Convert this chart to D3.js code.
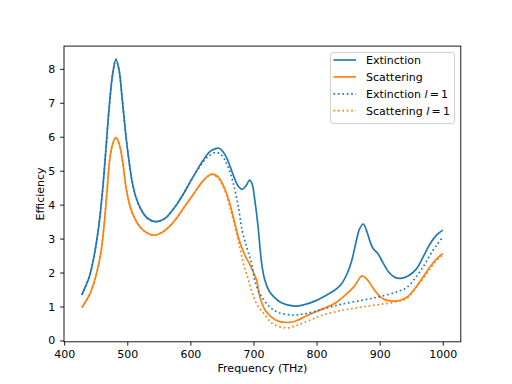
<!DOCTYPE html>
<html>
<head>
<meta charset="utf-8">
<script src="https://cdn.jsdelivr.net/npm/d3@7"></script>
<style>
  body { margin: 0; background: #fff; }
  svg { font-family: "DejaVu Sans", sans-serif; }
</style>
</head>
<body>
<svg id="chart" width="512" height="384"></svg>
<script>
// frequency (THz) / efficiency pairs
var extFreq = [428, 434, 440, 447, 454, 460, 466, 471, 477, 482, 487, 492, 498, 503, 508, 514, 522, 532, 545, 560, 570, 580, 590, 600,
  610, 620, 630, 640, 645, 650, 657, 663, 668, 675, 682, 688, 694, 698, 702, 707, 713, 718, 725, 732, 745, 765, 780, 800, 820, 831, 840, 848, 855, 862, 868, 874, 879, 885, 890, 897, 905, 915, 925, 933, 945, 958, 970, 980, 990, 1000];
var extVal = [1.34, 1.6, 1.88, 2.45, 3.25, 4.25, 5.6, 6.8, 7.87, 8.28, 7.96, 7.1, 6.0, 5.25, 4.65, 4.2, 3.85, 3.6, 3.5, 3.6, 3.8, 4.05, 4.35, 4.68,
  5.0, 5.3, 5.55, 5.65, 5.66, 5.6, 5.4, 5.12, 4.87, 4.57, 4.45, 4.55, 4.72, 4.6, 4.15, 3.4, 2.27, 1.78, 1.45, 1.29, 1.1, 1.01, 1.05, 1.18, 1.38, 1.51, 1.68, 1.95, 2.3, 2.85, 3.28, 3.43, 3.25, 2.9, 2.7, 2.56, 2.3, 2.0, 1.85, 1.83, 1.9, 2.1, 2.5, 2.85, 3.1, 3.25];

var scaFreq = [428, 440, 450, 458, 463, 468, 472, 477, 482, 487, 493, 498, 503, 508, 516, 525, 541, 555, 570, 580, 590, 600,
  610, 620, 630, 636, 645, 650, 657, 663, 668, 676, 681, 688, 694, 700, 705, 710, 720, 735, 750, 765, 790, 810, 831, 846, 860, 872, 880, 890, 900, 912, 924, 935, 945, 958, 970, 980, 990, 1000];
var scaVal = [0.97, 1.34, 1.88, 2.57, 3.35, 4.43, 5.3, 5.8, 5.98, 5.8, 5.22, 4.5, 4.05, 3.75, 3.45, 3.25, 3.1, 3.18, 3.42, 3.65, 3.92, 4.18,
  4.45, 4.7, 4.87, 4.9, 4.8, 4.65, 4.35, 4.0, 3.64, 3.05, 2.76, 2.45, 2.25, 2.0, 1.78, 1.29, 0.85, 0.6, 0.53, 0.56, 0.78, 0.93, 1.12, 1.34, 1.6, 1.9, 1.8, 1.53, 1.3, 1.18, 1.16, 1.2, 1.3, 1.58, 1.9, 2.17, 2.4, 2.56];

var ext1Freq = [428, 434, 440, 447, 454, 460, 466, 471, 477, 482, 487, 492, 498, 503, 508, 514, 522, 532, 545, 560, 570, 580, 590, 600,
  610, 620, 630, 641, 650, 657, 663, 668, 676, 682, 690, 697, 702, 708, 713, 725, 740, 763, 780, 800, 821, 840, 874, 900, 927, 943, 958, 970, 980, 990, 1000];
var ext1Val = [1.34, 1.6, 1.88, 2.45, 3.25, 4.25, 5.6, 6.8, 7.87, 8.28, 7.96, 7.1, 6.0, 5.25, 4.65, 4.2, 3.85, 3.6, 3.5, 3.6, 3.8, 4.05, 4.35, 4.68,
  4.98, 5.25, 5.45, 5.54, 5.45, 5.22, 4.95, 4.63, 3.94, 3.25, 2.7, 2.27, 1.78, 1.45, 1.29, 1.0, 0.82, 0.75, 0.78, 0.87, 0.98, 1.07, 1.19, 1.29, 1.43, 1.56, 1.88, 2.2, 2.52, 2.8, 3.04];

var sca1Freq = [428, 440, 450, 458, 463, 468, 472, 477, 482, 487, 493, 498, 503, 508, 516, 525, 541, 555, 570, 580, 590, 600,
  610, 620, 630, 636, 645, 650, 657, 663, 668, 672, 678, 684, 692, 700, 708, 716, 730, 751, 770, 790, 810, 831, 850, 874, 900, 927, 943, 958, 970, 980, 990, 1000];
var sca1Val = [0.97, 1.34, 1.88, 2.57, 3.35, 4.43, 5.3, 5.8, 5.98, 5.8, 5.22, 4.5, 4.05, 3.75, 3.45, 3.25, 3.1, 3.18, 3.42, 3.65, 3.92, 4.18,
  4.45, 4.7, 4.86, 4.88, 4.75, 4.6, 4.3, 3.9, 3.55, 3.24, 2.76, 2.27, 1.78, 1.29, 0.98, 0.8, 0.5, 0.37, 0.45, 0.6, 0.75, 0.85, 0.92, 0.99, 1.06, 1.14, 1.24, 1.56, 1.85, 2.12, 2.35, 2.52];

var xTicks = [400, 500, 600, 700, 800, 900, 1000];
var yTicks = [0, 1, 2, 3, 4, 5, 6, 7, 8];

var series = [
  { name: "Extinction", l1: false, color: "#1f77b4", freq: extFreq, val: extVal, dash: null },
  { name: "Scattering", l1: false, color: "#ff7f0e", freq: scaFreq, val: scaVal, dash: null },
  { name: "Extinction", l1: true, color: "#1f77b4", freq: ext1Freq, val: ext1Val, dash: "1.67,2.75" },
  { name: "Scattering", l1: true, color: "#ff7f0e", freq: sca1Freq, val: sca1Val, dash: "1.67,2.75" }
];

var svg = d3.select("#chart");
var axLeft = 64, axRight = 460.8, axTop = 46.1, axBottom = 341.8;

var x = d3.scaleLinear().domain([399.7, 1028.6]).range([axLeft, axRight]);
var y = d3.scaleLinear().domain([-0.04, 8.67]).range([axBottom, axTop]);

var line = d3.line()
  .x(function(d) { return x(d[0]); })
  .y(function(d) { return y(d[1]); })
  .curve(d3.curveCatmullRom.alpha(0.5));

var plot = svg.append("g");
series.forEach(function(s) {
  var pts = s.freq.map(function(f, i) { return [f, s.val[i]]; });
  plot.append("path")
    .attr("d", line(pts))
    .attr("fill", "none")
    .attr("stroke", s.color)
    .attr("stroke-width", 1.67)
    .attr("stroke-dasharray", s.dash);
});

// axes
var xAxis = d3.axisBottom(x).tickValues(xTicks).tickFormat(d3.format("d")).tickSize(3.9).tickPadding(4.9);
var yAxis = d3.axisLeft(y).tickValues(yTicks).tickFormat(d3.format("d")).tickSize(3.9).tickPadding(4.9);

var gx = svg.append("g").attr("transform", "translate(0," + axBottom + ")").call(xAxis);
var gy = svg.append("g").attr("transform", "translate(" + axLeft + ",0)").call(yAxis);
[gx, gy].forEach(function(g) {
  g.select(".domain").remove();
  g.selectAll("line").attr("stroke", "#000").attr("stroke-width", 0.9);
  g.selectAll("text").attr("font-family", "DejaVu Sans").attr("font-size", "11px").attr("fill", "#000");
});

// frame
svg.append("rect")
  .attr("x", axLeft).attr("y", axTop)
  .attr("width", axRight - axLeft).attr("height", axBottom - axTop)
  .attr("fill", "none").attr("stroke", "#000").attr("stroke-width", 0.9);

svg.append("text")
  .attr("x", (axLeft + axRight) / 2).attr("y", 372)
  .attr("text-anchor", "middle")
  .attr("font-size", "11px")
  .text("Frequency (THz)");

svg.append("text")
  .attr("transform", "translate(44," + (axTop + axBottom) / 2 + ") rotate(-90)")
  .attr("text-anchor", "middle")
  .attr("font-size", "11px")
  .text("Efficiency");

// legend
var lg = svg.append("g");
lg.append("rect")
  .attr("x", 330.5).attr("y", 52.5).attr("width", 124).attr("height", 71)
  .attr("rx", 2.5)
  .attr("fill", "#fff").attr("fill-opacity", 0.8)
  .attr("stroke", "#ccc").attr("stroke-width", 0.9);

series.forEach(function(s, i) {
  var yy = 60 + i * 16.9;
  lg.append("line")
    .attr("x1", 333.5).attr("x2", 356).attr("y1", yy).attr("y2", yy)
    .attr("stroke", s.color).attr("stroke-width", 1.67)
    .attr("stroke-dasharray", s.dash);
  var t = lg.append("text")
    .attr("x", 366).attr("y", yy + 4)
    .attr("font-size", "11px");
  t.append("tspan").text(s.name);
  if (s.l1) {
    t.append("tspan").text(" ");
    t.append("tspan").attr("font-style", "italic").text("l");
    t.append("tspan").text("\u2009=\u20091");
  }
});
</script>
</body>
</html>
